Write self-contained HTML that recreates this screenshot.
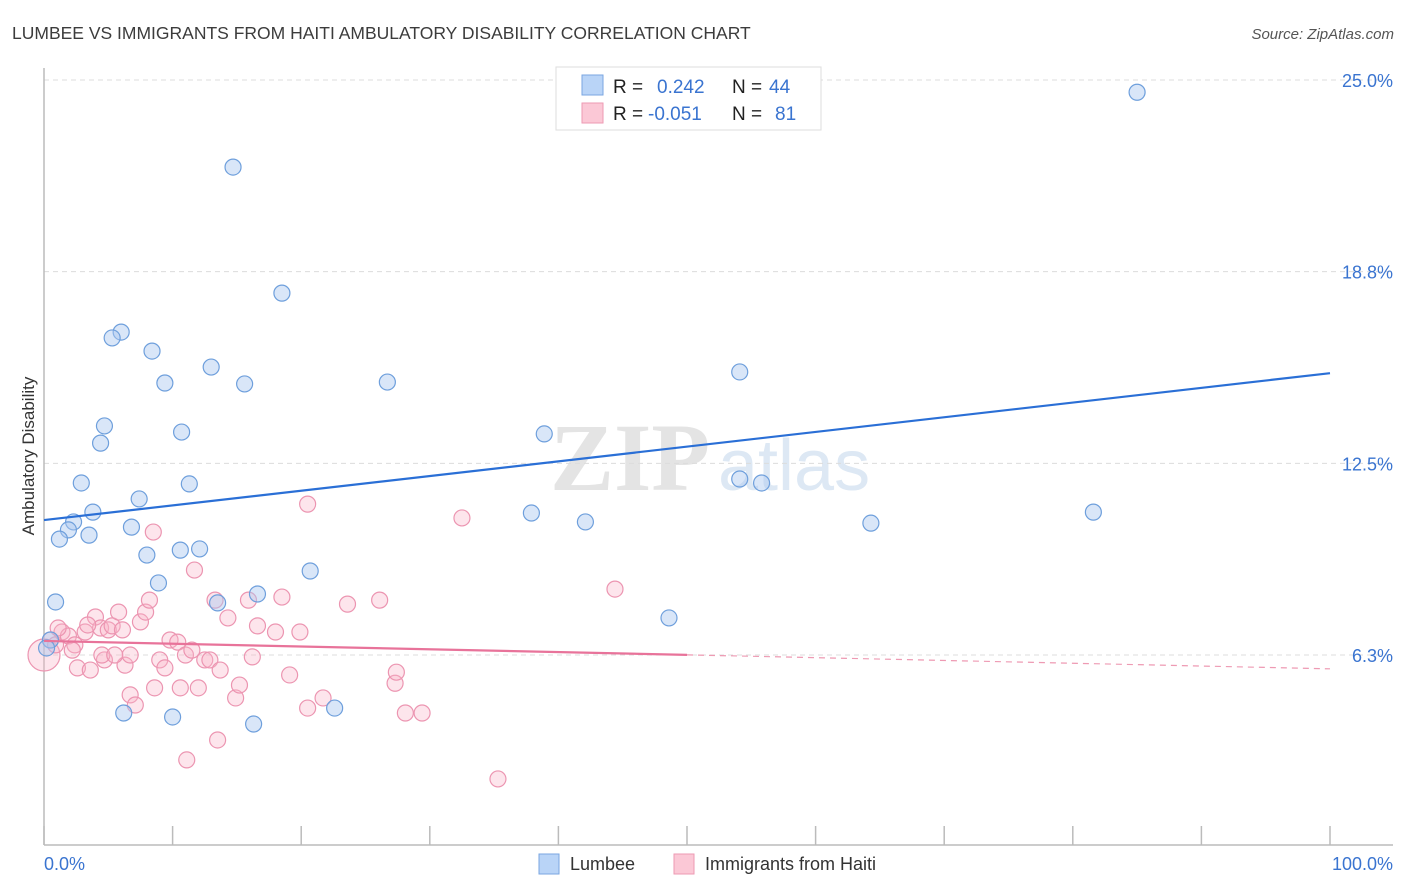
<!DOCTYPE html>
<html><head><meta charset="utf-8"><style>
body{margin:0;background:#fff;font-family:"Liberation Sans",sans-serif}
svg{display:block}
</style></head><body>
<svg id="chart" width="1406" height="892" viewBox="0 0 1406 892" xmlns="http://www.w3.org/2000/svg">
<text x="12" y="39" font-size="17.5" fill="#3c3c3c" font-family="Liberation Sans, sans-serif">LUMBEE VS IMMIGRANTS FROM HAITI AMBULATORY DISABILITY CORRELATION CHART</text>
<text x="1394" y="39" font-size="15" fill="#555" text-anchor="end" font-style="italic" font-family="Liberation Sans, sans-serif">Source: ZipAtlas.com</text>
<g>
<text x="550" y="490" font-size="96" fill="#e4e4e4" font-family="Liberation Serif, serif" font-weight="bold">ZIP</text>
<text x="718" y="490" font-size="72" fill="#dde8f4" font-family="Liberation Sans, sans-serif">atlas</text>
</g>
<g id="grid"></g>
<g id="axes"></g>
<g id="marks"></g>
<text transform="translate(34,456) rotate(-90)" font-size="17" fill="#333" text-anchor="middle" font-family="Liberation Sans, sans-serif">Ambulatory Disability</text>
<g>
<rect x="556" y="67" width="265" height="63" fill="#fff" stroke="#ddd"/>
<rect x="582" y="75" width="21" height="20" fill="#b9d4f7" stroke="#7aa6e0"/>
<rect x="582" y="103" width="21" height="20" fill="#fbc8d6" stroke="#ee9ab3"/>
<text x="613" y="93" font-size="19" fill="#222">R = </text><text x="657" y="93" font-size="19" fill="#3a74d0">0.242</text>
<text x="732" y="93" font-size="19" fill="#222">N = </text><text x="769" y="93" font-size="19" fill="#3a74d0">44</text>
<text x="613" y="120" font-size="19" fill="#222">R = </text><text x="648" y="120" font-size="19" fill="#3a74d0">-0.051</text>
<text x="732" y="120" font-size="19" fill="#222">N = </text><text x="775" y="120" font-size="19" fill="#3a74d0">81</text>
</g>
<g>
<rect x="539" y="854" width="20" height="20" fill="#b9d4f7" stroke="#7aa6e0"/>
<text x="570" y="870" font-size="18" fill="#333">Lumbee</text>
<rect x="674" y="854" width="20" height="20" fill="#fbc8d6" stroke="#ee9ab3"/>
<text x="705" y="870" font-size="18" fill="#333">Immigrants from Haiti</text>
</g>
</svg>
<script>
const yTicks=[6.25,12.5,18.75,25];
const yTickLabels=["6.3%","12.5%","18.8%","25.0%"];
const xTickCount=10;
const xLabels=["0.0%","100.0%"];
const lumbeeX=[85.0,14.7,18.5,6.0,5.3,8.4,13.0,54.1,9.4,15.6,26.7,4.7,10.7,4.4,38.9,2.9,11.3,7.4,54.1,55.8,3.8,2.3,1.9,37.9,42.1,64.3,81.6,1.2,3.5,6.8,10.6,12.1,8.0,20.7,8.9,16.6,0.9,13.5,48.6,6.2,10.0,16.3,22.6,0.5,0.2];
const lumbeeY=[24.6,22.16,18.05,16.78,16.59,16.16,15.64,15.48,15.12,15.09,15.15,13.72,13.52,13.16,13.46,11.86,11.83,11.34,11.99,11.86,10.91,10.59,10.33,10.88,10.59,10.55,10.91,10.03,10.16,10.42,9.67,9.71,9.51,8.99,8.60,8.24,7.98,7.95,7.46,4.36,4.23,4.0,4.52,6.74,6.48];
const haitiX=[0,0.5,0.9,1.4,1.9,2.4,1.1,2.6,3.6,3.2,4.0,4.4,5.0,5.3,5.8,6.1,3.4,4.7,6.3,6.7,7.5,7.9,8.2,8.5,9.0,9.4,9.8,10.4,10.6,11.0,11.5,11.7,12.0,12.5,12.9,13.3,13.7,14.3,14.9,15.2,13.5,11.1,15.9,16.2,16.6,18.0,18.5,19.1,19.9,20.5,20.5,21.7,23.6,26.1,27.3,27.4,28.1,29.4,32.5,44.4,35.3,6.7,7.1,8.6,4.5,5.5,2.2];
const haitiY=[6.25,6.74,6.58,7.0,6.87,6.58,7.13,5.83,5.76,7.0,7.49,7.13,7.07,7.20,7.65,7.07,7.23,6.09,5.92,6.25,7.33,7.65,8.04,10.26,6.09,5.83,6.74,6.67,5.18,6.25,6.41,9.02,5.18,6.09,6.09,8.04,5.76,7.46,4.85,5.27,3.48,2.83,8.04,6.19,7.20,7.0,8.14,5.60,7.0,11.17,4.52,4.85,7.91,8.04,5.33,5.69,4.36,4.36,10.72,8.40,2.21,4.95,4.62,5.18,6.25,6.25,6.41];
const lumbeeFit=[10.65,15.44];
const haitiFit=[6.71,5.8];
const haitiSolidEnd=50;

const X0=44,X1=1330,YTOP=80,YBOT=846.7;
const xs=v=>X0+(X1-X0)*v/100;
const ys=v=>YBOT-(YBOT-YTOP)*v/25;
const NS="http://www.w3.org/2000/svg";
function mk(tag,attrs,parent){const e=document.createElementNS(NS,tag);for(const k in attrs)e.setAttribute(k,attrs[k]);parent.appendChild(e);return e;}
const grid=document.getElementById('grid'),axes=document.getElementById('axes'),marks=document.getElementById('marks');
yTicks.forEach((t,i)=>{
  const l=mk('line',{x1:X0,x2:1393,y1:ys(t),y2:ys(t),stroke:'#dcdcdc','stroke-dasharray':'5,4'},grid);
  
  
  const tx=mk('text',{x:1393,y:ys(t)+7,'font-size':18,fill:'#3a74d0','text-anchor':'end'},axes);
  tx.textContent=yTickLabels[i];
  
  
});
const ax=mk('line',{x1:X0,x2:1393,y1:845,y2:845,stroke:'#bbb','stroke-width':1.5},axes);


const ay=mk('line',{x1:X0,x2:X0,y1:68,y2:845,stroke:'#bbb','stroke-width':1.5},axes);


for(let i=0;i<=xTickCount;i++){
  const x=xs(i*100/xTickCount);
  const t=mk('line',{x1:x,x2:x,y1:i==0?826:826,y2:845,stroke:'#bbb','stroke-width':1.5},axes);
  
  
}
const xl0=mk('text',{x:X0,y:870,'font-size':18,fill:'#3a74d0'},axes);xl0.textContent=xLabels[0];


const xl1=mk('text',{x:1393,y:870,'font-size':18,fill:'#3a74d0','text-anchor':'end'},axes);xl1.textContent=xLabels[1];



haitiX.forEach((x,i)=>{
  const c=mk('circle',{cx:xs(x),cy:ys(haitiY[i]),r:i==0?16:8,fill:'rgba(248,180,200,0.35)',stroke:'#ec95b1','stroke-width':1.2},marks);
  
  
});
lumbeeX.forEach((x,i)=>{
  const c=mk('circle',{cx:xs(x),cy:ys(lumbeeY[i]),r:8,fill:'rgba(170,200,240,0.45)',stroke:'#6e9fdc','stroke-width':1.2},marks);
  
  
});
const bl=mk('line',{x1:xs(0),y1:ys(lumbeeFit[0]),x2:xs(100),y2:ys(lumbeeFit[1]),stroke:'#2a6fd6','stroke-width':2.2},marks);


const hAt=v=>haitiFit[0]+(haitiFit[1]-haitiFit[0])*v/100;
const pl=mk('line',{x1:xs(0),y1:ys(hAt(0)),x2:xs(haitiSolidEnd),y2:ys(hAt(haitiSolidEnd)),stroke:'#e8739a','stroke-width':2.2},marks);


const pd=mk('line',{x1:xs(haitiSolidEnd),y1:ys(hAt(haitiSolidEnd)),x2:xs(100),y2:ys(hAt(100)),stroke:'#ee9ab3','stroke-width':1.2,'stroke-dasharray':'6,5'},marks);


</script>
</body></html>
